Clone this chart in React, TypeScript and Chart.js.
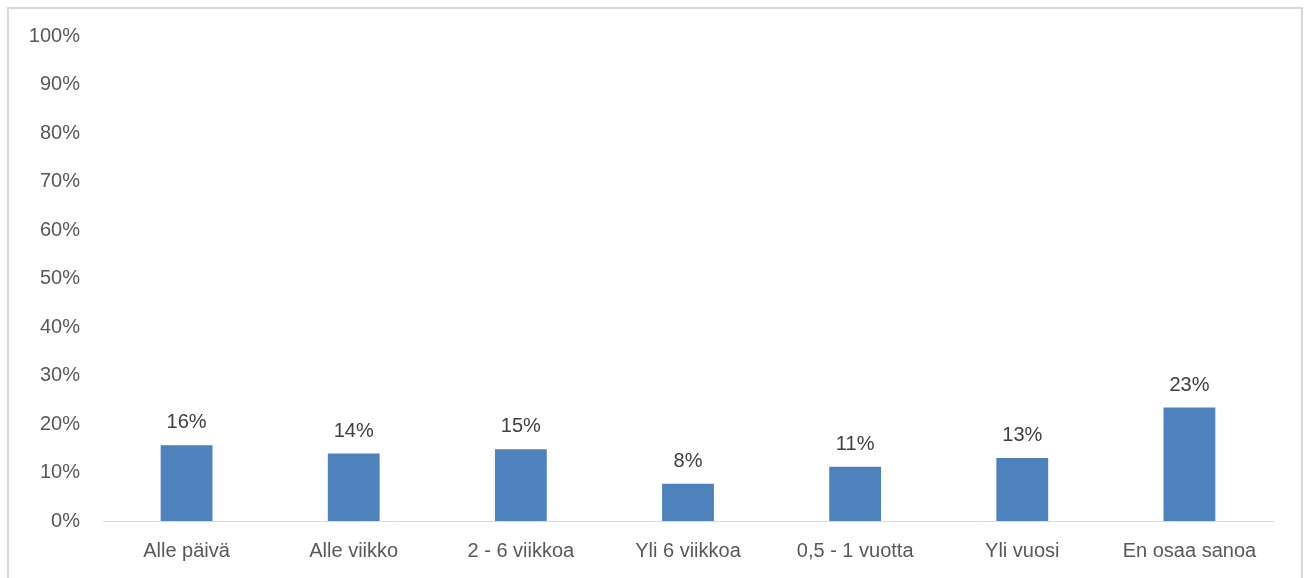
import React, { useEffect, useRef } from "react";
import { Chart, registerables } from "chart.js";

Chart.register(...registerables);

const categories = ["Alle päivä", "Alle viikko", "2 - 6 viikkoa", "Yli 6 viikkoa", "0,5 - 1 vuotta", "Yli vuosi", "En osaa sanoa"];
const values = [15.6, 13.9, 14.8, 7.7, 11.2, 13.0, 23.4];
const valueLabels = ["16%", "14%", "15%", "8%", "11%", "13%", "23%"];
const yTicks = [0, 10, 20, 30, 40, 50, 60, 70, 80, 90, 100];

const FONT = "'Liberation Sans', Arial, sans-serif";

const labelPlugin = {
  id: "valueLabels",
  afterDatasetsDraw(chart: any) {
    const ctx = chart.ctx;
    const meta = chart.getDatasetMeta(0);
    ctx.save();
    ctx.font = `20px ${FONT}`;
    ctx.fillStyle = "#404040";
    ctx.textAlign = "center";
    ctx.textBaseline = "alphabetic";
    meta.data.forEach((bar: any, i: number) => {
      ctx.fillText(valueLabels[i], bar.x, bar.y - 17);
    });
    ctx.restore();
  },
};

export default function App() {
  const ref = useRef<HTMLCanvasElement | null>(null);
  useEffect(() => {
    if (!ref.current) return;
    const chart = new Chart(ref.current, {
      type: "bar",
      data: {
        labels: categories,
        datasets: [
          {
            data: values,
            backgroundColor: "#4F81BD",
            barPercentage: 0.62,
            categoryPercentage: 0.5,
          },
        ],
      },
      options: {
        animation: false,
        responsive: true,
        maintainAspectRatio: false,
        layout: { padding: { top: 27, right: 28, left: 0, bottom: 0 } },
        plugins: { legend: { display: false }, tooltip: { enabled: false } },
        scales: {
          x: {
            grid: { display: false, drawTicks: false },
            border: { display: true, color: "#d9d9d9", width: 1 },
            ticks: { color: "#595959", font: { family: FONT, size: 20 }, padding: 18, maxRotation: 0, autoSkip: false },
            afterFit: (s: any) => {
              s.height = 64;
              s.paddingLeft = 0;
              s.paddingRight = 0;
            },
          },
          y: {
            min: 0,
            max: 100,
            grid: { display: false, drawTicks: false },
            border: { display: false },
            afterBuildTicks: (s: any) => { s.ticks = yTicks.map((v) => ({ value: v })); },
            ticks: {
              color: "#595959",
              font: { family: FONT, size: 20 },
              padding: 23,
              callback: (v: any) => `${v}%`,
            },
            afterFit: (s: any) => {
              s.width = 94;
              s.paddingTop = 0;
              s.paddingBottom = 0;
            },
          },
        },
      },
      plugins: [labelPlugin],
    });
    return () => chart.destroy();
  }, []);
  return (
    <div
      style={{
        position: "fixed",
        left: 7,
        top: 7,
        width: 1296,
        height: 580,
        border: "2px solid #d9d9d9",
        boxSizing: "border-box",
        background: "#ffffff",
      }}
    >
      <div style={{ width: 1292, height: 576, position: "relative" }}>
        <canvas ref={ref} />
      </div>
    </div>
  );
}
